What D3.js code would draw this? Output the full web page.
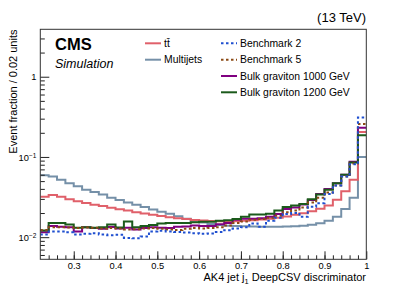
<!DOCTYPE html>
<html>
<head>
<meta charset="utf-8">
<script src="https://cdn.jsdelivr.net/npm/d3@7"></script>
<style>
  body { margin: 0; background: #fff; }
  text { font-family: "Liberation Sans", Arial, sans-serif; fill: #000; }
</style>
</head>
<body>
<div id="chart"></div>
<script>
// bin low edges, 0.02 wide, 0.22 .. 0.98
let binEdges = d3.range(39).map(i => +(0.22 + i * 0.02).toFixed(2));

let multijets = [0.059, 0.057, 0.052, 0.047, 0.043, 0.039, 0.0365, 0.034, 0.031, 0.029,
  0.027, 0.0254, 0.0237, 0.0222, 0.0208, 0.0196, 0.0182, 0.0170, 0.0160, 0.0152,
  0.0146, 0.0142, 0.0139, 0.0138, 0.0137, 0.0136, 0.0135, 0.0135, 0.0135, 0.0136,
  0.0137, 0.0139, 0.0143, 0.0149, 0.0160, 0.0180, 0.0225, 0.031, 0.100];

let ttbar = [0.032, 0.0335, 0.032, 0.0298, 0.028, 0.0266, 0.0254, 0.0244, 0.0232, 0.0223,
  0.0215, 0.0205, 0.0197, 0.0190, 0.0183, 0.0177, 0.0172, 0.0168, 0.0164, 0.0161,
  0.0159, 0.0158, 0.0158, 0.0158, 0.0160, 0.0163, 0.0166, 0.0170, 0.0175, 0.0181,
  0.0190, 0.0199, 0.0211, 0.0226, 0.0248, 0.0293, 0.0375, 0.052, 0.205];

let bench2 = [0.0108, 0.0118, 0.0118, 0.0115, 0.0108, 0.0110, 0.0112, 0.0108, 0.0106, 0.0107,
  0.0098, 0.0097, 0.0102, 0.0118, 0.0120, 0.0118, 0.0116, 0.0114, 0.0112, 0.0110,
  0.0111, 0.0116, 0.0122, 0.0128, 0.0133, 0.0148, 0.0135, 0.0160, 0.0175, 0.0195,
  0.0200, 0.0180, 0.0240, 0.0265, 0.0345, 0.0442, 0.057, 0.081, 0.31];

let bench5 = [0.0123, 0.0133, 0.0133, 0.0132, 0.0130, 0.0132, 0.0131, 0.0128, 0.0130, 0.0128,
  0.0125, 0.0126, 0.0128, 0.0130, 0.0127, 0.0125, 0.0123, 0.0127, 0.0130, 0.0128,
  0.0130, 0.0133, 0.0140, 0.0150, 0.0157, 0.0165, 0.0168, 0.0175, 0.0185, 0.0205,
  0.0215, 0.0235, 0.0270, 0.0310, 0.0360, 0.0440, 0.057, 0.083, 0.257];

let bulk1000 = [0.0115, 0.0138, 0.0135, 0.0133, 0.0118, 0.0133, 0.0130, 0.0127, 0.0134, 0.0128,
  0.0131, 0.0125, 0.0130, 0.0133, 0.0131, 0.0130, 0.0135, 0.0136, 0.0140, 0.0138,
  0.0138, 0.0145, 0.0150, 0.0165, 0.0170, 0.0170, 0.0172, 0.0180, 0.0195, 0.0225,
  0.0235, 0.0255, 0.0290, 0.0345, 0.0400, 0.0470, 0.060, 0.087, 0.232];

let bulk1200 = [0.0121, 0.0150, 0.0150, 0.0144, 0.0131, 0.0133, 0.0131, 0.0133, 0.0144, 0.0132,
  0.0157, 0.0133, 0.0138, 0.0142, 0.0148, 0.0150, 0.0150, 0.0150, 0.0153, 0.0156,
  0.0156, 0.0160, 0.0163, 0.0168, 0.0180, 0.0192, 0.0192, 0.0196, 0.0215, 0.0237,
  0.0248, 0.0260, 0.0298, 0.0340, 0.0390, 0.0470, 0.060, 0.085, 0.187];

let xTicks = [0.3, 0.4, 0.5, 0.6, 0.7, 0.8, 0.9, 1];
let yTicks = [0.01, 0.1, 1];

let series = [
  {name: "Multijets", values: multijets, color: "#7590a8", dash: null},
  {name: "tt\u0304", values: ttbar, color: "#e0606a", dash: null},
  {name: "Bulk graviton 1000 GeV", values: bulk1000, color: "#800080", dash: null},
  {name: "Bulk graviton 1200 GeV", values: bulk1200, color: "#1b5a1b", dash: null},
  {name: "Benchmark 5", values: bench5, color: "#8b4a14", dash: "2.5,2.5"},
  {name: "Benchmark 2", values: bench2, color: "#1f4fd0", dash: "2.5,2.5"}
];

function makeChart() {
  let svgWidth = 407;
  let svgHeight = 292;
  let margin = {top: 29.3, right: 40.7, bottom: 32.7, left: 40.3};
  let w = svgWidth - margin.left - margin.right;
  let h = svgHeight - margin.top - margin.bottom;

  let svg = d3.select("#chart")
    .append("svg")
    .attr("width", svgWidth)
    .attr("height", svgHeight);

  let g = svg.append("g")
    .attr("transform", `translate(${margin.left}, ${margin.top})`);

  let x = d3.scaleLinear().domain([0.22, 1]).range([0, w]);
  let y = d3.scaleLog().domain([0.0053, 3.9]).range([h, 0]);

  g.append("clipPath").attr("id", "clip")
    .append("rect").attr("width", w).attr("height", h);

  // histograms
  let line = d3.line()
    .x(d => x(d[0]))
    .y(d => y(d[1]))
    .curve(d3.curveStepAfter);

  series.forEach(s => {
    let pts = binEdges.map((e, i) => [e, s.values[i]]);
    pts.push([1, s.values[s.values.length - 1]]);
    g.append("path")
      .attr("clip-path", "url(#clip)")
      .attr("d", line(pts))
      .attr("fill", "none")
      .attr("stroke", s.color)
      .attr("stroke-width", 2)
      .attr("stroke-dasharray", s.dash);
  });

  // x axis, ticks pointing up
  let xMinor = d3.range(12, 51).map(i => i * 0.02).filter(v => v > 0.22 && v < 1);
  g.append("g")
    .attr("transform", `translate(0, ${h})`)
    .call(d3.axisBottom(x).tickValues(xMinor).tickSize(-4).tickFormat(""))
    .call(a => a.select(".domain").remove());
  g.append("g")
    .attr("transform", `translate(0, ${h})`)
    .call(d3.axisBottom(x).tickValues(xTicks).tickSize(-8).tickPadding(3)
      .tickFormat(d => d === 1 ? "1" : d3.format(".1f")(d)))
    .call(a => a.select(".domain").remove())
    .call(a => a.selectAll("text").attr("font-size", "9.3px"));

  // y axis, ticks pointing right
  let yMinor = [];
  [0.001, 0.01, 0.1, 1].forEach(d => {
    for (let k = 2; k <= 9; k++) {
      let v = d * k;
      if (v > 0.0053 && v < 3.9) yMinor.push(v);
    }
  });
  g.append("g")
    .call(d3.axisLeft(y).tickValues(yMinor).tickSize(-4.5).tickFormat(""))
    .call(a => a.select(".domain").remove());
  let yAx = g.append("g")
    .call(d3.axisLeft(y).tickValues(yTicks).tickSize(-9).tickFormat(""))
    .call(a => a.select(".domain").remove());
  yAx.selectAll(".tick").each(function(d) {
    let t = d3.select(this).append("text")
      .attr("x", -4)
      .attr("dy", "0.35em")
      .attr("text-anchor", "end")
      .attr("font-size", "9.3px")
      .attr("fill", "#000");
    if (d === 1) {
      t.text("1");
    } else {
      t.append("tspan").text("10");
      t.append("tspan").attr("dy", "-0.45em").attr("font-size", "6.5px")
        .text("\u2212" + Math.round(-Math.log10(d)));
    }
  });
  g.selectAll(".tick line").attr("stroke", "#222");

  // frame
  g.append("rect")
    .attr("width", w).attr("height", h)
    .attr("fill", "none")
    .attr("stroke", "#333")
    .attr("stroke-width", 1);

  // titles
  svg.append("text")
    .attr("x", 366).attr("y", 21.5)
    .attr("text-anchor", "end")
    .attr("font-size", "13px")
    .text("(13 TeV)");

  svg.append("text")
    .attr("x", 55).attr("y", 50)
    .attr("font-size", "16.5px")
    .attr("font-weight", "bold")
    .text("CMS");

  svg.append("text")
    .attr("x", 55).attr("y", 68.3)
    .attr("font-size", "12.5px")
    .attr("font-style", "italic")
    .text("Simulation");

  let xt = svg.append("text")
    .attr("x", 366).attr("y", 281)
    .attr("text-anchor", "end")
    .attr("font-size", "11px");
  xt.append("tspan").text("AK4 jet j");
  xt.append("tspan").attr("dy", "3").attr("font-size", "7.5px").text("1");
  xt.append("tspan").attr("dy", "-3").text(" DeepCSV discriminator");

  svg.append("text")
    .attr("transform", "translate(17, 29.5) rotate(-90)")
    .attr("text-anchor", "end")
    .attr("font-size", "11px")
    .text("Event fraction / 0.02 units");

  // legend
  let legendItems = [
    {s: series[1], x: 145, y: 43.3},
    {s: series[0], x: 145, y: 59.7},
    {s: series[5], x: 221, y: 43.3},
    {s: series[4], x: 221, y: 59.7},
    {s: series[2], x: 221, y: 76},
    {s: series[3], x: 221, y: 92.3}
  ];
  legendItems.forEach(d => {
    svg.append("line")
      .attr("x1", d.x).attr("x2", d.x + 16)
      .attr("y1", d.y).attr("y2", d.y)
      .attr("stroke", d.s.color)
      .attr("stroke-width", 2)
      .attr("stroke-dasharray", d.s.dash);
    svg.append("text")
      .attr("x", d.x + 19).attr("y", d.y)
      .attr("dy", "0.35em")
      .attr("font-size", "10.4px")
      .text(d.s.name);
  });
}

makeChart();
</script>
</body>
</html>
